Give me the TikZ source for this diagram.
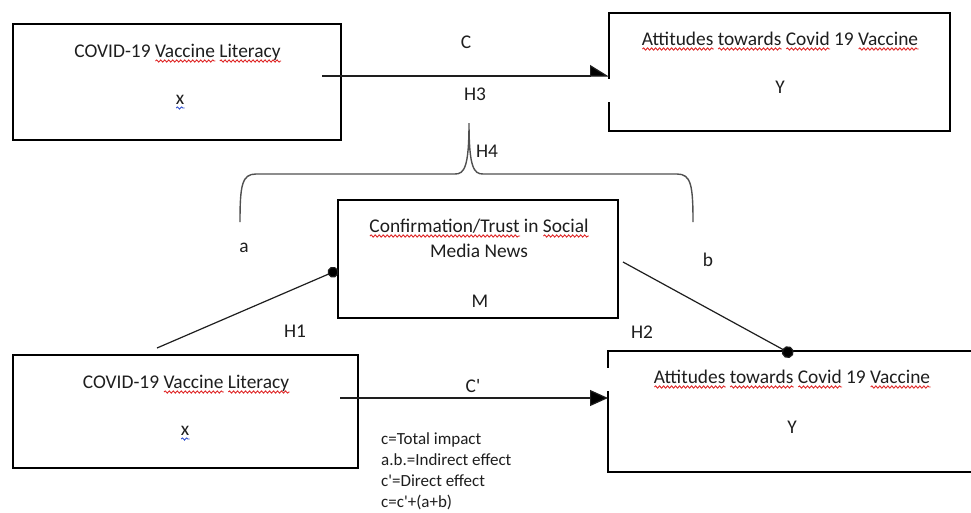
\documentclass[tikz,border=0pt]{standalone}
\usepackage{fontspec}
\setmainfont{Carlito}
\usetikzlibrary{arrows.meta,calc,decorations.pathmorphing}

\definecolor{ink}{HTML}{1E1E1E}
\definecolor{bracegray}{HTML}{505050}
\definecolor{spellred}{HTML}{E02828}
\definecolor{spellblue}{HTML}{3050D0}

% straight apostrophe, as typed
\newcommand\sq{\textquotesingle}

% spell-check style wavy underline: \wavy{colour}{word}
\newsavebox\wavybox
\newlength\wavylen
\newcommand\wavy[2]{%
  \sbox\wavybox{#2}\setlength\wavylen{\wd\wavybox}%
  \rlap{\usebox\wavybox}%
  \rlap{\raisebox{-4pt}{\tikz[x=1pt,y=1pt,baseline=0pt]
    \draw[draw=#1,line width=0.9pt,decorate,
      decoration={snake,amplitude=1.1pt,segment length=4pt}] (0,0) -- (\wavylen,0);}}%
  \kern\wavylen}

\begin{document}
\begin{tikzpicture}[x=1pt,y=-1pt,
  box/.style={draw=black,line width=2.6pt,rectangle,inner sep=0pt,outer sep=0pt},
  frame/.style={rectangle,inner sep=0pt,outer sep=0pt},
  edge/.style={draw=black,line width=2.6pt,line cap=rect},
  txt/.style={anchor=base,inner sep=0pt,text=ink,font=\fontsize{19.4}{23}\selectfont},
  legendtxt/.style={anchor=north west,inner sep=0pt,text=ink,align=left,
    font=\fontsize{17}{21.3}\selectfont},
  link/.style={draw=ink,line width=1.2pt},
  brace/.style={draw=bracegray,line width=1.4pt}
]
\useasboundingbox[fill=white] (0,0) rectangle (971,512);

% boxes
\node[box,line width=2.9pt,minimum width=328pt,minimum height=116pt] (x1) at (177,82) {};
\node[frame,minimum width=341pt,minimum height=118pt] (y1) at (779.5,72) {};
\node[box,minimum width=280pt,minimum height=118pt] (m) at (478,259) {};
\node[box,line width=2.9pt,minimum width=345pt,minimum height=113pt] (x2) at (185.5,411.5) {};
\node[frame,minimum width=374pt,minimum height=121pt] (y2) at (795,411.5) {};

% open frames of the two outcome boxes
\draw[edge] ($(y1.west)+(0,6)$) -- (y1.north west) -- (y1.north east)
  -- (y1.south east) -- (y1.south west) -- ($(y1.west)+(0,31)$);
\draw[edge] ($(y2.west)+(0,-44.5)$) -- (y2.north west) -- (y2.north east);
\draw[edge] ($(y2.west)+(0,-19.5)$) -- (y2.south west) -- (y2.south east);

% box texts
\node[txt] (x1t) at (177.5,57) {COVID-19 \wavy{spellred}{Vaccine} \wavy{spellred}{Literacy}};
\node[txt] (x1v) at (180,104) {\wavy{spellblue}{x}};
\node[txt] (y1t) at (780,45) {\wavy{spellred}{Attitudes} \wavy{spellred}{towards} \wavy{spellred}{Covid} 19 \wavy{spellred}{Vaccine}};
\node[txt] (y1v) at (780,93) {Y};
\node[txt] (mt1) at (479,232) {\wavy{spellred}{Confirmation/Trust} in \wavy{spellred}{Social}};
\node[txt] (mt2) at (479,257) {Media News};
\node[txt] (mv) at (480,307) {M};
\node[txt] (x2t) at (186,388) {COVID-19 \wavy{spellred}{Vaccine} \wavy{spellred}{Literacy}};
\node[txt] (x2v) at (185,435) {\wavy{spellblue}{x}};
\node[txt] (y2t) at (792,383) {\wavy{spellred}{Attitudes} \wavy{spellred}{towards} \wavy{spellred}{Covid} 19 \wavy{spellred}{Vaccine}};
\node[txt] (y2v) at (792,433) {Y};

% path labels
\node[txt] (lc) at (466,48) {C};
\node[txt] (lh3) at (475,100) {H3};
\node[txt] (lh4) at (487,157) {H4};
\node[txt] (la) at (244,252) {a};
\node[txt] (lb) at (708,266) {b};
\node[txt] (lh1) at (295,337) {H1};
\node[txt] (lh2) at (642,338) {H2};
\node[txt] (lc2) at (473,392) {C\sq};

% legend
\node[legendtxt] (legend) at (381,432) {c=Total impact\\a.b.=Indirect effect\\c\sq=Direct effect\\c=c\sq+(a+b)};

% total effect c
\coordinate (cstart) at ($(x1.east)+(-19,-6)$);
\draw[link,-{Triangle[length=18pt,width=22pt,left]}] (cstart) -- (cstart -| y1.west);

% direct effect c'
\coordinate (c2start) at ($(x2.east)+(-18,-13.5)$);
\draw[link,-{Triangle[length=18pt,width=16pt]}] (c2start) -- (c2start -| y2.west);

% path a (H1)
\coordinate (h1start) at ($(x2.north)+(-28.5,-7)$);
\draw[link,-{Circle[length=11pt]}] (h1start) -- ($(m.west)+(0,11)$);

% path b (H2)
\coordinate (h2start) at ($(m.east)+(5,3)$);
\draw[link,-{Circle[length=12pt]}] (h2start) -- ($(y2.north west)+(185,4)$);

% brace grouping a and b (H4)
\draw[brace] (240,222) .. controls (240,185) and (242,174) .. (256,174)
  -- (455,174) .. controls (464,174) and (469,168) .. (469,123)
  .. controls (469,168) and (474,174) .. (483,174)
  -- (677,174) .. controls (691,174) and (693,185) .. (693,222);
\end{tikzpicture}
\end{document}
